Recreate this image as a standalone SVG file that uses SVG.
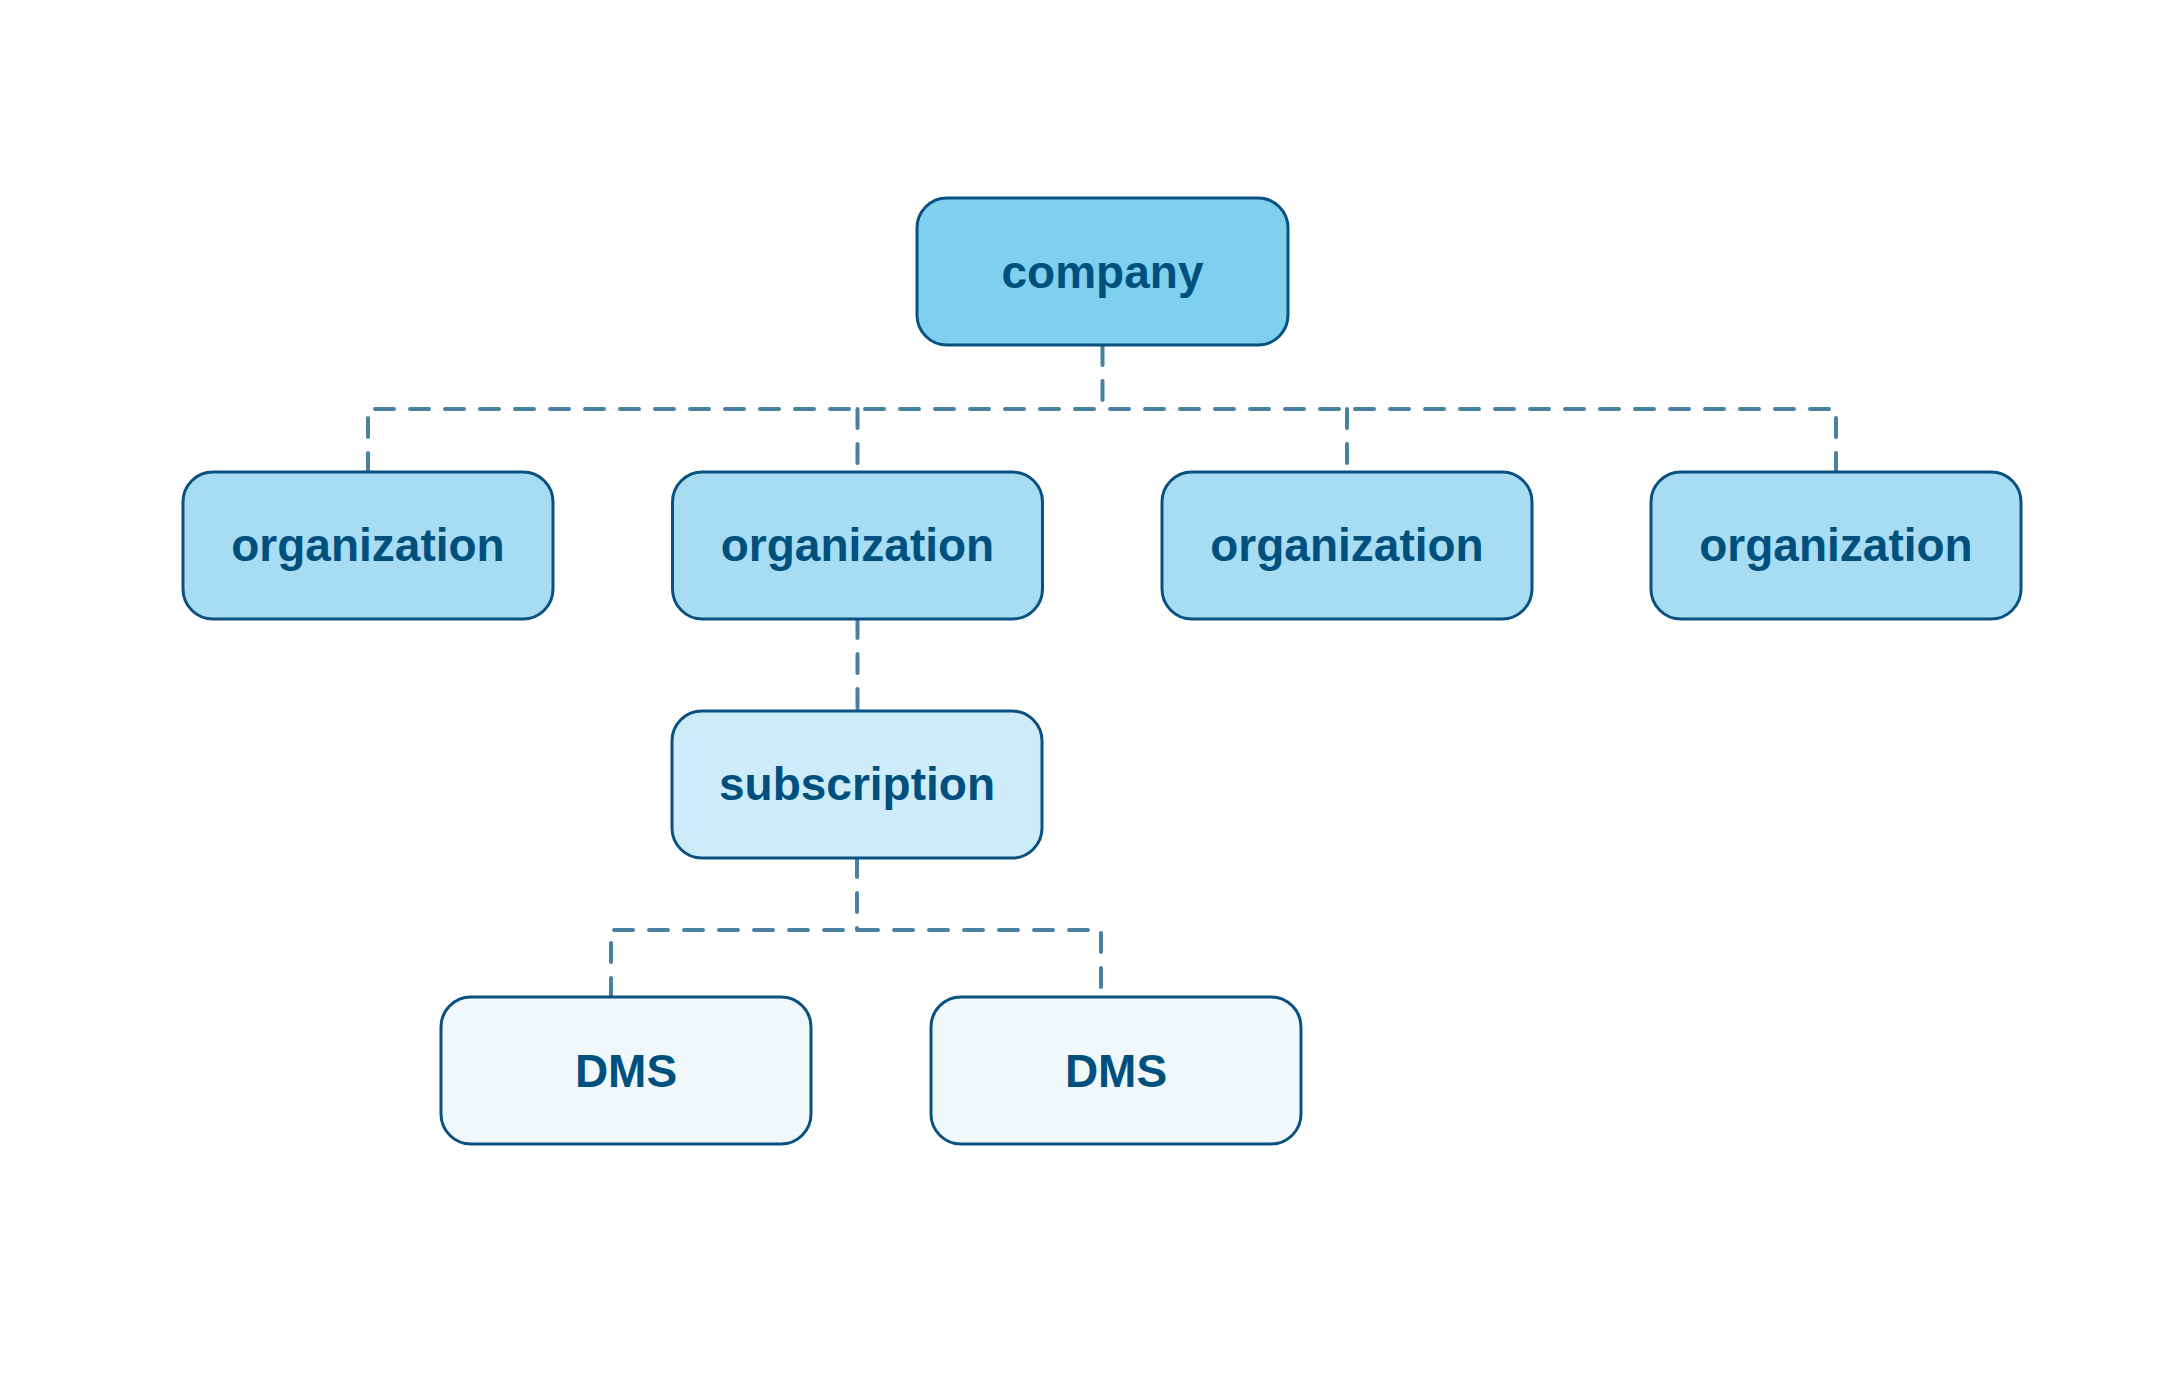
<svg xmlns="http://www.w3.org/2000/svg" width="2174" height="1382" viewBox="0 0 2174 1382">
  <style>
    .box { stroke: #0b5180; stroke-width: 3; }
    .l0 { fill: #7fcfef; }
    .l1 { fill: #a7dcf3; }
    .l2 { fill: #cdebf8; }
    .l3 { fill: #f0f8fc; }
    .lbl { font-family: "Liberation Sans", Arial, sans-serif; font-weight: bold; font-size: 46px; fill: #00507e; text-anchor: middle; }
    .conn { fill: none; stroke: #4a81a1; stroke-width: 4; stroke-dasharray: 19 16; stroke-linecap: round; stroke-linejoin: round; }
  </style>
  <rect width="2174" height="1382" fill="#ffffff"/>
  <g id="connectors">
    <path class="conn" d="M1102.5 346 V409"/>
    <path class="conn" d="M368 472 V409 H1836 V472"/>
    <path class="conn" d="M857.5 409 V472"/>
    <path class="conn" d="M1347 409 V472"/>
    <path class="conn" d="M857.5 619 V711"/>
    <path class="conn" d="M857 858 V930"/>
    <path class="conn" d="M611 997 V930 H1101 V997"/>
  </g>
  <g id="company">
    <rect class="box l0" x="917" y="198" width="371" height="147" rx="30"/>
    <text class="lbl" x="1102.5" y="288">company</text>
  </g>
  <g id="org1">
    <rect class="box l1" x="183" y="472" width="370" height="147" rx="30"/>
    <text class="lbl" x="368" y="561">organization</text>
  </g>
  <g id="org2">
    <rect class="box l1" x="672.5" y="472" width="370" height="147" rx="30"/>
    <text class="lbl" x="857.5" y="561">organization</text>
  </g>
  <g id="org3">
    <rect class="box l1" x="1162" y="472" width="370" height="147" rx="30"/>
    <text class="lbl" x="1347" y="561">organization</text>
  </g>
  <g id="org4">
    <rect class="box l1" x="1651" y="472" width="370" height="147" rx="30"/>
    <text class="lbl" x="1836" y="561">organization</text>
  </g>
  <g id="subscription">
    <rect class="box l2" x="672" y="711" width="370" height="147" rx="30"/>
    <text class="lbl" x="857" y="800">subscription</text>
  </g>
  <g id="dms1">
    <rect class="box l3" x="441" y="997" width="370" height="147" rx="30"/>
    <text class="lbl" x="626" y="1087">DMS</text>
  </g>
  <g id="dms2">
    <rect class="box l3" x="931" y="997" width="370" height="147" rx="30"/>
    <text class="lbl" x="1116" y="1087">DMS</text>
  </g>
</svg>
